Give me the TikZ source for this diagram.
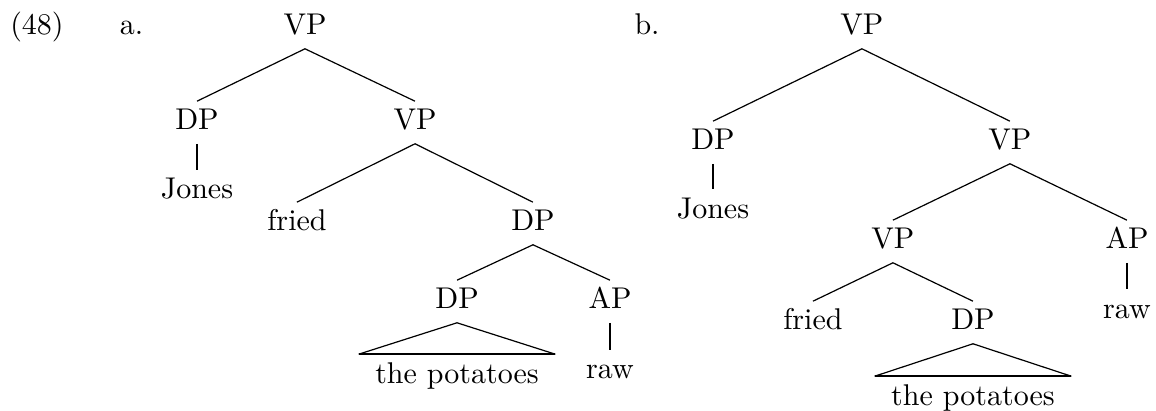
\documentclass[tikz,border=0pt]{standalone}
\usetikzlibrary{calc}

\begin{document}
\begin{tikzpicture}[
        cat/.style={anchor=base, inner ysep=2.4pt, text height=7pt, text depth=2pt},
        branch/.style={thin},
        stem/.style={line width=0.9pt},
        base/.style={line width=0.7pt}
    ]
        \useasboundingbox (0,0) rectangle (13.543,4.815);

% Номер примера и метки деревьев
        \node[cat] (num) at (0.433,4.405) {(48)};
        \node[cat] (la) at (1.541,4.405) {a.};
        \node[cat] (lb) at (7.580,4.405) {b.};

% Дерево (a): узлы
        \node[cat] (a-vp) at (3.573,4.405) {VP};
        \node[cat] (a-dp) at (2.308,3.292) {DP};
        \node[cat] (a-vp2) at (4.862,3.292) {VP};
        \node[cat] (a-jones) at (2.308,2.484) {Jones};
        \node[cat] (a-fried) at (3.479,2.109) {fried};
        \node[cat] (a-dp2) at (6.244,2.109) {DP};
        \node[cat] (a-dp3) at (5.354,1.195) {DP};
        \node[cat] (a-ap) at (7.146,1.195) {AP};
        \node[cat] (a-pot) at (5.354,0.328) {the potatoes};
        \node[cat] (a-raw) at (7.146,0.375) {raw};

% Дерево (a): ветви
        \draw[branch] (a-dp.north) -- (a-vp.south) -- (a-vp2.north);
        \draw[stem] (a-dp.south) -- (a-jones.north);
        \draw[branch] (a-fried.north) -- (a-vp2.south) -- (a-dp2.north);
        \draw[branch] (a-dp3.north) -- (a-dp2.south) -- (a-ap.north);
        \draw[stem] (a-ap.south) -- (a-raw.north);

% Треугольник над "the potatoes"
        \coordinate (a-tl) at ($(a-pot.north west)+(-2pt,0)$);
        \coordinate (a-tr) at ($(a-pot.north east)+(2pt,0)$);
        \draw[branch] (a-tl) -- (a-dp3.south) -- (a-tr);
        \draw[base] (a-tl) -- (a-tr);

% Дерево (b): узлы
        \node[cat] (b-vp) at (10.098,4.405) {VP};
        \node[cat] (b-dp) at (8.353,3.058) {DP};
        \node[cat] (b-vp2) at (11.832,3.058) {VP};
        \node[cat] (b-jones) at (8.353,2.261) {Jones};
        \node[cat] (b-vp3) at (10.461,1.898) {VP};
        \node[cat] (b-ap) at (13.203,1.898) {AP};
        \node[cat] (b-fried) at (9.524,0.949) {fried};
        \node[cat] (b-dp2) at (11.399,0.949) {DP};
        \node[cat] (b-raw) at (13.203,1.089) {raw};
        \node[cat] (b-pot) at (11.399,0.070) {the potatoes};

% Дерево (b): ветви
        \draw[branch] (b-dp.north) -- (b-vp.south) -- (b-vp2.north);
        \draw[stem] (b-dp.south) -- (b-jones.north);
        \draw[branch] (b-vp3.north) -- (b-vp2.south) -- (b-ap.north);
        \draw[stem] (b-ap.south) -- (b-raw.north);
        \draw[branch] (b-fried.north) -- (b-vp3.south) -- (b-dp2.north);

% Треугольник над "the potatoes"
        \coordinate (b-tl) at ($(b-pot.north west)+(-2pt,0)$);
        \coordinate (b-tr) at ($(b-pot.north east)+(2pt,0)$);
        \draw[branch] (b-tl) -- (b-dp2.south) -- (b-tr);
        \draw[base] (b-tl) -- (b-tr);
    \end{tikzpicture}
\end{document}
